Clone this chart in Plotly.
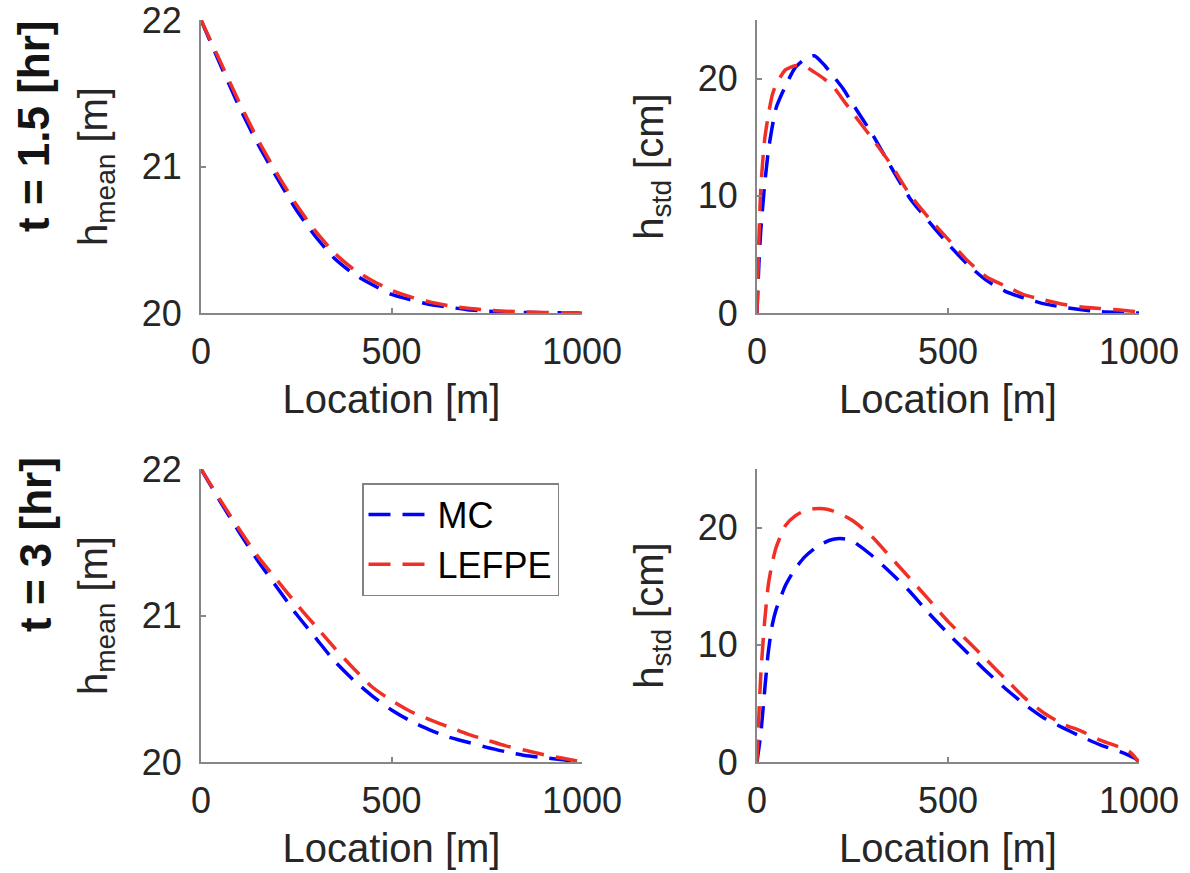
import plotly.graph_objects as go
from plotly.subplots import make_subplots

# ---------------- data ----------------
x_mean = [0, 50, 100, 150, 200, 250, 300, 350, 400, 450, 500,
          550, 600, 650, 700, 750, 800, 850, 900, 950, 1000]

mean_mc_t15 = [22.0, 21.70, 21.41, 21.15, 20.92, 20.705, 20.524, 20.374, 20.268, 20.193, 20.127,
               20.09, 20.058, 20.04, 20.022, 20.012, 20.007, 20.004, 20.002, 20.001, 20.0]
mean_lefpe_t15 = [22.0, 21.72, 21.44, 21.18, 20.95, 20.74, 20.56, 20.41, 20.30, 20.22, 20.155,
                  20.11, 20.075, 20.05, 20.032, 20.02, 20.012, 20.007, 20.004, 20.002, 20.0]

mean_mc_t3 = [22.0, 21.78, 21.57, 21.37, 21.19, 21.01, 20.85, 20.69, 20.56, 20.45, 20.355,
              20.28, 20.22, 20.17, 20.135, 20.10, 20.07, 20.045, 20.03, 20.015, 20.0]
mean_lefpe_t3 = [22.0, 21.79, 21.59, 21.40, 21.24, 21.08, 20.93, 20.78, 20.64, 20.51, 20.42,
                 20.345, 20.29, 20.24, 20.19, 20.15, 20.11, 20.08, 20.05, 20.025, 20.0]

x_std = [0, 5, 10, 20, 30, 40, 50, 75, 100, 125, 150, 175, 200, 225, 250,
         300, 350, 400, 450, 500, 550, 600, 650, 700, 750, 800, 850, 900, 950, 975, 990, 1000]

std_mc_t15 = [0, 4.2, 7.1, 10.95, 13.9, 15.9, 17.5, 19.4, 20.94, 21.66, 21.95, 21.2, 20.2, 19.15, 17.86,
              15.35, 12.5, 9.8, 7.8, 5.9, 4.19, 2.8, 1.85, 1.27, 0.8, 0.5, 0.28, 0.11, 0.04, 0.02, 0.01, 0.0]
std_lefpe_t15 = [0, 6.3, 10.7, 14.8, 16.95, 18.6, 19.5, 20.76, 21.1, 21.05, 20.55, 20.0, 19.3, 18.2, 17.1,
                 14.95, 12.7, 10.1, 8.1, 6.3, 4.5, 3.1, 2.3, 1.55, 1.13, 0.75, 0.52, 0.38, 0.25, 0.18, 0.12, 0.1]

std_mc_t3 = [0, 1.2, 2.4, 6.1, 9.5, 11.7, 13.0, 15.1, 16.5, 17.5, 18.2, 18.7, 19.0, 19.05, 18.85,
             17.64, 16.15, 14.55, 12.69, 10.97, 9.35, 7.74, 6.27, 4.93, 3.78, 2.93, 2.15, 1.45, 0.88, 0.55, 0.31, 0.0]
std_lefpe_t3 = [0, 4.0, 7.5, 12.0, 15.2, 17.0, 18.3, 20.2, 21.0, 21.45, 21.6, 21.6, 21.4, 21.05, 20.6,
                19.27, 17.47, 15.67, 13.85, 12.0, 10.37, 8.74, 7.1, 5.49, 4.2, 3.25, 2.62, 1.84, 1.26, 0.88, 0.4, 0.0]

series_names = ["MC", "LEFPE"]
row_labels = ["t = 1.5 [hr]", "t = 3 [hr]"]
x_ticks = [0, 500, 1000]
mean_ticks = [20, 21, 22]
std_ticks = [0, 10, 20]

# ---------------- style ----------------
FONT = "Liberation Sans, Arial, Helvetica, sans-serif"
BLUE = "rgb(0,0,255)"
RED = "rgb(240,48,38)"
AXC = "rgb(135,135,135)"
TXT = "rgb(38,38,38)"
DASH = "22px,12px"
LW = 3.5

fig = make_subplots(rows=2, cols=2)

panels = [
    (1, 1, x_mean, mean_mc_t15, mean_lefpe_t15),
    (1, 2, x_std, std_mc_t15, std_lefpe_t15),
    (2, 1, x_mean, mean_mc_t3, mean_lefpe_t3),
    (2, 2, x_std, std_mc_t3, std_lefpe_t3),
]
for r, c, xs, mc, lf in panels:
    show = (r == 2 and c == 1)
    fig.add_trace(go.Scatter(x=xs, y=mc, mode="lines", name=series_names[0],
                             line=dict(color=BLUE, width=LW, dash=DASH, shape="spline", smoothing=0.6),
                             showlegend=show), row=r, col=c)
    fig.add_trace(go.Scatter(x=xs, y=lf, mode="lines", name=series_names[1],
                             line=dict(color=RED, width=LW, dash=DASH, shape="spline", smoothing=0.6),
                             showlegend=show), row=r, col=c)

W, H = 1190, 873
xdom_left = [201 / W, 582 / W]
xdom_right = [757 / W, 1139 / W]
ydom_top = [1 - 313 / H, 1 - 20 / H]
ydom_bot = [1 - 762 / H, 1 - 469 / H]

common_axis = dict(showline=True, linecolor=AXC, linewidth=2, mirror=False,
                   ticks="inside", ticklen=5, tickwidth=1.5, tickcolor=AXC,
                   showgrid=False, zeroline=False, automargin=False,
                   ticklabeloverflow="allow",
                   tickfont=dict(family=FONT, size=36, color=TXT))

for (r, c), xd, yd in [((1, 1), xdom_left, ydom_top), ((1, 2), xdom_right, ydom_top),
                       ((2, 1), xdom_left, ydom_bot), ((2, 2), xdom_right, ydom_bot)]:
    fig.update_xaxes(common_axis, domain=xd, range=[0, 1000], tickvals=x_ticks,
                     ticklabelstandoff=6,
                     title=dict(text="Location [m]", font=dict(family=FONT, size=40, color=TXT), standoff=14),
                     row=r, col=c)
    if c == 1:
        fig.update_yaxes(common_axis, domain=yd, range=[20, 22], tickvals=mean_ticks,
                         ticklabelstandoff=10,
                         title=dict(text="h<sub>mean</sub> [m]", font=dict(family=FONT, size=40, color=TXT), standoff=22),
                         row=r, col=c)
    else:
        fig.update_yaxes(common_axis, domain=yd, range=[0, 25], tickvals=std_ticks,
                         ticklabelstandoff=10,
                         title=dict(text="h<sub>std</sub> [cm]", font=dict(family=FONT, size=40, color=TXT), standoff=22),
                         row=r, col=c)

fig.add_annotation(text="<b>" + row_labels[0] + "</b>", xref="paper", yref="paper",
                   x=34 / W, y=1 - 126 / H, xanchor="center", yanchor="middle",
                   textangle=-90, showarrow=False,
                   font=dict(family=FONT, size=44, color="rgb(20,20,20)"))
fig.add_annotation(text="<b>" + row_labels[1] + "</b>", xref="paper", yref="paper",
                   x=35 / W, y=1 - 545 / H, xanchor="center", yanchor="middle",
                   textangle=-90, showarrow=False,
                   font=dict(family=FONT, size=44, color="rgb(20,20,20)"))

fig.update_layout(
    width=W, height=H,
    margin=dict(l=0, r=0, t=0, b=0, autoexpand=False),
    paper_bgcolor="white", plot_bgcolor="white",
    font=dict(family=FONT, color=TXT),
    legend=dict(x=362 / W, y=1 - 483 / H, xanchor="left", yanchor="top",
                bgcolor="white", bordercolor="rgb(130,130,130)", borderwidth=1.5,
                font=dict(family=FONT, size=36, color="black"),
                itemwidth=64, tracegroupgap=0),
)

fig.write_html("out.html")
